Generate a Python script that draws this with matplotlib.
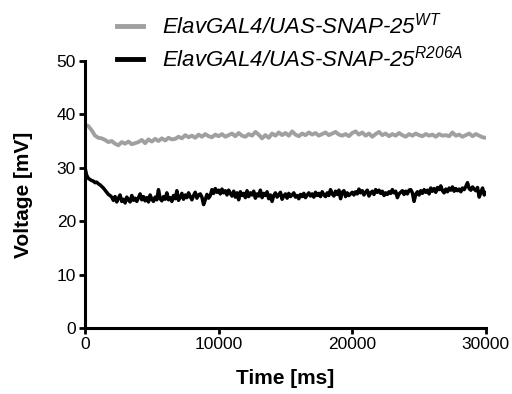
import numpy as np
import matplotlib
matplotlib.use("Agg")
import matplotlib.pyplot as plt

plt.rcParams['font.family'] = ['Liberation Sans', 'DejaVu Sans']
plt.rcParams['mathtext.fontset'] = 'custom'
plt.rcParams['mathtext.it'] = 'Liberation Sans:italic'
plt.rcParams['mathtext.rm'] = 'Liberation Sans:italic'
plt.rcParams['mathtext.default'] = 'it'

series_names = ["ElavGAL4/UAS-SNAP-25$^{WT}$", "ElavGAL4/UAS-SNAP-25$^{R206A}$"]

# WT trace, sampled every 250 ms (0 .. 30000)
wt_mv = [38.0, 37.8, 37.0, 36.0, 35.6, 35.5, 35.2, 34.8, 35.0, 34.5, 34.2, 34.8, 34.5, 34.9, 34.4, 34.6,
         34.8, 35.2, 34.6, 35.3, 34.9, 35.4, 35.0, 35.5, 35.1, 35.6, 35.3, 35.4, 35.8, 35.5, 36.1, 35.7,
         36.0, 35.6, 36.2, 35.8, 36.3, 35.9, 35.7, 36.2, 35.9, 36.3, 35.8, 36.1, 36.4, 35.9, 36.5, 36.0,
         35.8, 36.3, 36.0, 36.7, 36.2, 35.5, 36.1, 35.6, 36.4, 36.0, 36.6, 36.1, 36.5, 36.0, 36.8, 36.2,
         35.9, 36.4, 36.1, 36.6, 36.2, 36.5, 36.0, 36.3, 36.6, 36.1, 36.4, 36.7, 36.2, 36.0, 36.3, 35.9,
         36.5, 36.8, 36.2, 36.6, 36.0, 36.4, 35.8, 36.3, 36.7, 36.1, 36.4, 35.9, 36.3, 36.0, 36.5, 36.1,
         35.8, 36.3, 36.0, 36.4, 36.1, 35.9, 36.3, 36.0, 36.2, 35.8, 36.3, 36.0, 36.1, 35.9, 36.6, 36.0,
         36.2, 35.8, 36.1, 36.4, 35.9, 36.3, 36.0, 35.7, 35.6]

# R206A trace, sampled every 125 ms (0 .. 30000)
r206a_mv = [30.0, 28.6, 28.0, 27.8, 27.6, 27.5, 27.2, 27.3, 27.0, 26.8, 26.5, 26.2, 25.8, 25.4, 25.0, 24.8, 24.5,
            23.9, 24.6, 23.6, 24.3, 24.9, 23.7, 24.1, 23.4, 24.5, 24.0, 23.6, 24.8, 23.9, 24.3, 23.7, 24.4,
            25.1, 24.0, 24.6, 23.8, 24.4, 23.6, 24.9, 24.1, 23.7, 24.5, 24.0, 25.9, 24.2, 23.8, 24.6, 24.1,
            25.3, 24.0, 24.4, 23.7, 24.8, 24.2, 25.7, 23.9, 24.5, 25.2, 24.1, 24.9, 24.4, 25.3, 24.6, 24.0,
            24.8, 25.4, 24.3, 24.9, 25.1, 24.5, 23.1, 24.0, 25.0, 24.3, 24.8, 25.9, 25.2, 26.1, 25.4, 25.8,
            25.1, 26.0, 25.3, 25.7, 24.9, 25.8, 25.2, 24.7, 25.6, 24.5, 25.3, 24.0, 25.5, 24.8, 25.2, 24.4,
            25.7, 24.6, 25.3, 24.9, 25.6, 24.3, 25.1, 24.7, 25.8, 24.4, 25.2, 24.8, 25.5, 24.2, 24.9, 23.7,
            24.8, 25.3, 24.5, 24.9, 25.4, 24.1, 24.7, 25.1, 24.3, 25.2, 24.6, 24.9, 25.3, 24.5, 24.8, 24.2,
            25.0, 24.6, 25.2, 24.4, 24.9, 25.3, 24.7, 25.1, 24.5, 25.4, 24.8, 25.2, 24.6, 25.5, 24.9, 24.6,
            25.3, 24.8, 25.9, 25.1, 24.7, 25.6, 25.0, 25.8, 24.2, 25.4, 25.7, 24.6, 25.3, 24.8, 25.1, 25.4,
            24.9, 25.5, 25.1, 26.0, 25.3, 25.7, 24.9, 25.4, 25.8, 24.7, 25.3, 25.6, 25.0, 25.9, 25.4, 25.8,
            25.2, 25.6, 24.8, 25.3, 25.0, 25.5, 25.2, 25.9, 25.3, 25.6, 24.4, 25.1, 25.4, 25.7, 25.0, 25.6,
            25.1, 25.8, 25.9, 25.3, 23.7, 25.0, 25.5, 24.9, 25.7, 25.2, 25.9, 25.4, 25.8, 25.1, 26.2, 25.6,
            26.1, 25.4, 26.3, 25.9, 26.6, 25.7, 25.3, 26.0, 25.5, 26.2, 25.8, 26.4, 25.6, 26.1, 25.7, 26.0,
            25.5, 26.2, 25.9, 26.5, 27.2, 26.1, 25.8, 26.4, 26.0, 25.7, 26.3, 24.5, 25.4, 26.2, 24.9, 25.3]

time_wt = np.linspace(0, 30000, len(wt_mv))
time_r206a = np.linspace(0, 30000, len(r206a_mv))

x_ticks = [0, 10000, 20000, 30000]
y_ticks = [0, 10, 20, 30, 40, 50]

fig = plt.figure(figsize=(5.12, 3.94), dpi=100)
ax = fig.add_axes([0.166, 0.1675, 0.783, 0.678])

l1, = ax.plot(time_wt, wt_mv, color='#a0a0a2', lw=2.8)
l2, = ax.plot(time_r206a, r206a_mv, color='black', lw=2.5)

ax.set_xlim(0, 30000)
ax.set_ylim(0, 50)
ax.set_xticks(x_ticks)
ax.set_yticks(y_ticks)
for s in ['top', 'right']:
    ax.spines[s].set_visible(False)
for s in ['left', 'bottom']:
    ax.spines[s].set_linewidth(2.2)
ax.tick_params(width=2, length=4.5, labelsize=12.5, pad=2, color='black')

ax.set_xlabel("Time [ms]", fontsize=15, fontweight='bold', labelpad=12)
ax.set_ylabel("Voltage [mV]", fontsize=15, fontweight='bold', labelpad=17)

leg = ax.legend([l1, l2], series_names, loc='upper left', bbox_to_anchor=(0.2285, 0.967),
                bbox_transform=fig.transFigure, frameon=False, fontsize=16,
                handlelength=1.17, handletextpad=0.85, labelspacing=0.3, borderpad=0.0,
                borderaxespad=0.0)
for t in leg.get_texts():
    t.set_fontstyle('italic')
for h in leg.get_lines():
    h.set_linewidth(3.5)

fig.savefig("out.png", dpi=100)
